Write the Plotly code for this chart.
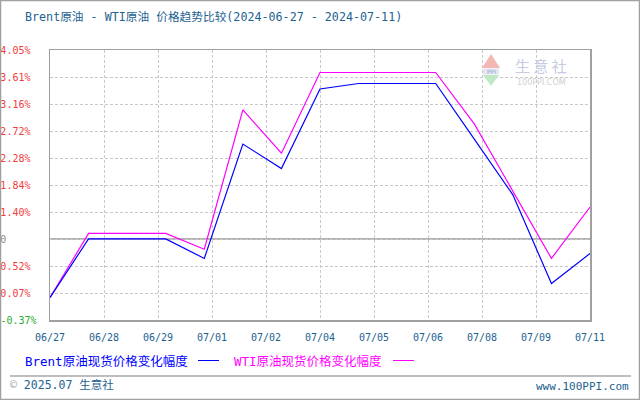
import plotly.graph_objects as go

# daily points, 2024-06-27 .. 2024-07-11 (calendar days)
dates = ["06/27", "06/28", "06/29", "06/30", "07/01", "07/02", "07/03", "07/04",
         "07/05", "07/06", "07/07", "07/08", "07/09", "07/10", "07/11"]
brent_pct = [0.00, 0.96, 0.96, 0.96, 0.64, 2.51, 2.11, 3.41,
             3.50, 3.50, 3.50, 2.59, 1.68, 0.23, 0.72]
wti_pct = [0.00, 1.05, 1.05, 1.05, 0.79, 3.07, 2.36, 3.68,
           3.68, 3.68, 3.68, 2.84, 1.75, 0.64, 1.48]

x_tick_labels = ["06/27", "06/28", "06/29", "07/01", "07/02", "07/04",
                 "07/05", "07/06", "07/08", "07/09", "07/11"]
y_tick_labels = ["-0.37%", "0.07%", "0.52%", "0", "1.40%", "1.84%",
                 "2.28%", "2.72%", "3.16%", "3.61%", "4.05%"]
y_min, y_step = -0.367, 0.4415

W, H = 640, 400
L, R, T, B = 50, 50, 50, 80
PW, PH = W - L - R, H - T - B

def px(x):
    return (x - L) / PW

def py(y):
    return (H - B - y) / PH

MONO = "DejaVu Sans Mono, Noto Sans CJK SC, monospace"
TEAL = "#1d6290"
GRID = "#c8c8c8"
FRAME = "#a0a0a0"

xs = list(range(len(dates)))
n_ticks = len(x_tick_labels)
x_tickvals = [i * (len(dates) - 1) / (n_ticks - 1) for i in range(n_ticks)]
y_tickvals = [y_min + k * y_step for k in range(len(y_tick_labels))]

def y_label(t):
    # labels are left-aligned: pad the monospace text on the right with invisible glyphs
    if t == "0":
        color = "#8a8a8a"
    elif t.startswith("-"):
        color = "#2eaa2e"
    else:
        color = "#f03c3c"
    label = f"<span style='color:{color}'>{t}</span>"
    if len(t) < 6:
        label += f"<span style='color:rgba(255,255,255,0)'>{'0' * (6 - len(t))}</span>"
    return label

fig = go.Figure()
fig.add_trace(go.Scatter(x=xs, y=wti_pct, mode="lines", name="WTI原油现货价格变化幅度",
                         line=dict(color="#ff00ff", width=1.2), text=dates))
fig.add_trace(go.Scatter(x=xs, y=brent_pct, mode="lines", name="Brent原油现货价格变化幅度",
                         line=dict(color="#0000ff", width=1.2), text=dates))

shapes = []
# reference line at the "0" tick
shapes.append(dict(type="line", xref="paper", yref="y", x0=0, x1=1,
                   y0=y_tickvals[3], y1=y_tickvals[3],
                   line=dict(color="#999999", width=1.5), layer="below"))
# legend keys
shapes.append(dict(type="line", xref="paper", yref="paper", x0=px(198), x1=px(219),
                   y0=py(360.5), y1=py(360.5), line=dict(color="#0000ff", width=1)))
shapes.append(dict(type="line", xref="paper", yref="paper", x0=px(393), x1=px(414),
                   y0=py(360.5), y1=py(360.5), line=dict(color="#ff00ff", width=1)))
# footer rule
shapes.append(dict(type="line", xref="paper", yref="paper", x0=px(10), x1=px(631),
                   y0=py(376), y1=py(376), line=dict(color="#a8a8a8", width=1.5)))
# outer frame
shapes.append(dict(type="rect", xref="paper", yref="paper", x0=px(0.5), x1=px(639.5),
                   y0=py(0.5), y1=py(399.5), line=dict(color="#a0a0a0", width=1.5)))
# watermark icon
shapes.append(dict(type="path", xref="paper", yref="paper",
                   path=f"M {px(482)} {py(68)} L {px(491)} {py(54)} L {px(500)} {py(68)} Z",
                   fillcolor="#f4b8b4", line=dict(width=0)))
shapes.append(dict(type="rect", xref="paper", yref="paper", x0=px(483), x1=px(499),
                   y0=py(74.5), y1=py(68.5), fillcolor="#e4e6f2", line=dict(width=0)))
shapes.append(dict(type="path", xref="paper", yref="paper",
                   path=f"M {px(483)} {py(75)} L {px(491)} {py(86)} L {px(499)} {py(75)} Z",
                   fillcolor="#bfe8c4", line=dict(width=0)))

annotations = [
    dict(text="Brent原油 - WTI原油 价格趋势比较(2024-06-27 - 2024-07-11)",
         x=px(23), y=py(17), xanchor="left", yanchor="middle", width=420, align="left",
         font=dict(family=MONO, size=11.7, color=TEAL)),
    dict(text="Brent原油现货价格变化幅度", x=px(23), y=py(361), xanchor="left",
         yanchor="middle", width=172, align="left",
         font=dict(family=MONO, size=12.5, color="#0000ff")),
    dict(text="WTI原油现货价格变化幅度", x=px(232), y=py(361), xanchor="left",
         yanchor="middle", width=158, align="left",
         font=dict(family=MONO, size=12.5, color="#ff00ff")),
    dict(text="<span style='color:#a8a8a8'>©</span> 2025.07 生意社", x=px(8), y=py(385),
         xanchor="left", yanchor="middle", width=120, align="left",
         font=dict(family=MONO, size=11.5, color=TEAL)),
    dict(text="www.100PPI.com", x=px(631), y=py(386), xanchor="right", yanchor="middle",
         font=dict(family=MONO, size=11, color=TEAL)),
    dict(text="PPI", x=px(491), y=py(71.5), xanchor="center", yanchor="middle",
         font=dict(family="DejaVu Sans", size=6, color="#9aa6cc")),
    dict(text="生 意 社", x=px(541), y=py(65), xanchor="center", yanchor="middle",
         font=dict(family="Noto Sans CJK SC", size=15, color="#c6cbe4")),
    dict(text="100PPI.COM", x=px(541), y=py(82.5), xanchor="center", yanchor="middle",
         font=dict(family="DejaVu Sans", size=8, color="#cfcfcf")),
]
for a in annotations:
    a.update(xref="paper", yref="paper", showarrow=False)

fig.update_layout(
    width=W, height=H,
    margin=dict(l=L, r=R, t=T, b=B, pad=0, autoexpand=False),
    paper_bgcolor="white", plot_bgcolor="white",
    showlegend=False, hovermode=False,
    shapes=shapes, annotations=annotations,
    xaxis=dict(range=[0, len(dates) - 1], tickmode="array", tickvals=x_tickvals,
               ticktext=x_tick_labels, showgrid=True, gridcolor=GRID, griddash="3px,2px",
               gridwidth=1, zeroline=False, showline=True, linecolor=FRAME, linewidth=1.5,
               mirror=True, ticks="", ticklabelstandoff=7, automargin=False,
               tickfont=dict(family=MONO, size=10, color=TEAL)),
    yaxis=dict(range=[y_min, y_min + 10 * y_step], tickmode="array", tickvals=y_tickvals,
               ticktext=[y_label(t) for t in y_tick_labels], showgrid=True,
               gridcolor=GRID, griddash="3px,2px", gridwidth=1, zeroline=False,
               showline=True, linecolor=FRAME, linewidth=1.5, mirror=True, ticks="",
               ticklabelstandoff=10, automargin=False,
               tickfont=dict(family=MONO, size=10, color="#f03c3c")),
)

fig.write_html("out.html", config={"displayModeBar": False, "staticPlot": True})
